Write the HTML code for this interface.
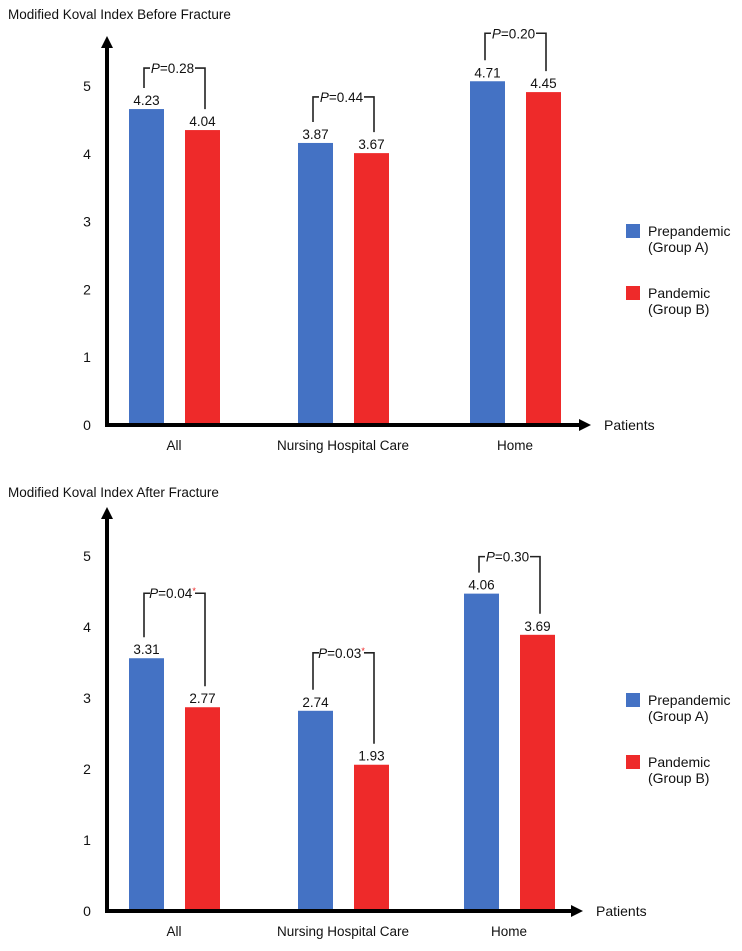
<!DOCTYPE html>
<html><head><meta charset="utf-8"><style>
html,body{margin:0;padding:0;background:#fff;}
svg{display:block;font-family:"Liberation Sans",Arial,sans-serif;}
</style></head><body>
<svg id="chart" width="742" height="951" viewBox="0 0 742 951" xmlns="http://www.w3.org/2000/svg"></svg>
<script>
const categories = ["All", "Nursing Hospital Care", "Home"];
const ticks = [0, 1, 2, 3, 4, 5];
const beforeA = [4.66, 4.16, 5.07];
const beforeB = [4.35, 4.01, 4.91];
const beforeLabelsA = ["4.23", "3.87", "4.71"];
const beforeLabelsB = ["4.04", "3.67", "4.45"];
const beforeP = ["=0.28", "=0.44", "=0.20"];
const beforeSig = [false, false, false];
// After fracture
const afterA = [3.56, 2.82, 4.47];
const afterB = [2.87, 2.06, 3.89];
const afterLabelsA = ["3.31", "2.74", "4.06"];
const afterLabelsB = ["2.77", "1.93", "3.69"];
const afterP = ["=0.04", "=0.03", "=0.30"];
const afterSig = [true, true, false];

const NS = "http://www.w3.org/2000/svg";
const svg = document.getElementById("chart");
function mk(tag, attrs, parent, text) {
  const e = document.createElementNS(NS, tag);
  for (const k in attrs) e.setAttribute(k, attrs[k]);
  if (text !== undefined) e.textContent = text;
  (parent || svg).appendChild(e);
  return e;
}

function panel(cfg) {
  const g = mk("g", {});
  
  
  const y = v => cfg.base - v * cfg.unit;
  const t = mk("text", {x: 8, y: cfg.titleY, "font-size": 13.5, fill: "#111"}, g, cfg.title);
  
  
  ticks.forEach(v => {
    const tl = mk("text", {x: 87, y: y(v) + 5, "font-size": 14, fill: "#111", "text-anchor": "middle"}, g, String(v));
    
    
  });
  const groupX = [129, 298, cfg.homeX];
  categories.forEach((c, i) => {
    const xa = groupX[i], xb = xa + 56;
    const va = cfg.A[i], vb = cfg.B[i];
    const ba = mk("rect", {x: xa, y: y(va), width: 35, height: va * cfg.unit, fill: "#4472c4"}, g);
    
    
    const bb = mk("rect", {x: xb, y: y(vb), width: 35, height: vb * cfg.unit, fill: "#ee2a2a"}, g);
    
    
    const la = mk("text", {x: xa + 17.5, y: y(va) - 4, "font-size": 13.5, fill: "#111", "text-anchor": "middle"}, g, cfg.LA[i]);
    
    
    const lb = mk("text", {x: xb + 17.5, y: y(vb) - 4, "font-size": 13.5, fill: "#111", "text-anchor": "middle"}, g, cfg.LB[i]);
    
    
    const top = Math.min(y(va), y(vb)) - cfg.bracketGap[i];
    const lx = xa + 15, rx = xb + 20;
    const path = mk("path", {d: `M${lx},${y(va) - 21} V${top} H${lx + 6} M${rx - 10},${top} H${rx} V${y(vb) - 21}`, stroke: "#222", "stroke-width": 1.6, fill: "none"}, g);
    
    
    const pt = mk("text", {x: (lx + rx) / 2 - 2, y: top + 5, "font-size": 13.5, fill: "#111", "text-anchor": "middle"}, g);
    
    
    mk("tspan", {"font-style": "italic"}, pt, "P");
    mk("tspan", {}, pt, cfg.P[i]);
    if (cfg.sig[i]) mk("tspan", {fill: "#e22", "font-size": 9, dy: -4}, pt, "*");
    const cl = mk("text", {x: xa + 45, y: cfg.base + 25, "font-size": 13.5, fill: "#111", "text-anchor": "middle"}, g, c);
    
    
  });
  const ya = mk("path", {d: `M107,${cfg.base + 2} V${cfg.axisTop + 8}`, stroke: "#000", "stroke-width": 4}, g);
  
  
  mk("polygon", {points: `101,${cfg.axisTop + 12} 107,${cfg.axisTop} 113,${cfg.axisTop + 12}`, fill: "#000"}, g);
  const xa = mk("path", {d: `M105,${cfg.base} H${cfg.arrowX - 10}`, stroke: "#000", "stroke-width": 4}, g);
  
  
  mk("polygon", {points: `${cfg.arrowX - 12},${cfg.base - 6} ${cfg.arrowX},${cfg.base} ${cfg.arrowX - 12},${cfg.base + 6}`, fill: "#000"}, g);
  const xt = mk("text", {x: cfg.arrowX + 13, y: cfg.base + 5, "font-size": 14, fill: "#111"}, g, "Patients");
  
  
  const lg = mk("g", {}, g);
  
  
  [["#4472c4", "Prepandemic", "(Group A)", cfg.legY], ["#ee2a2a", "Pandemic", "(Group B)", cfg.legY + 62]].forEach(([col, a, b, ly]) => {
    const e = mk("g", {}, lg);
    
    
    mk("rect", {x: 626, y: ly, width: 14, height: 14, fill: col}, e);
    mk("text", {x: 648, y: ly + 12, "font-size": 14, fill: "#111"}, e, a);
    mk("text", {x: 648, y: ly + 28, "font-size": 14, fill: "#111"}, e, b);
  });
}

panel({name: "before-fracture-panel", title: "Modified Koval Index Before Fracture", titleY: 19,
  base: 425, unit: 67.8, axisTop: 36, arrowX: 591, homeX: 470, legY: 224, bracketGap: [41, 46, 48],
  A: beforeA, B: beforeB, LA: beforeLabelsA, LB: beforeLabelsB, P: beforeP, sig: beforeSig});
panel({name: "after-fracture-panel", title: "Modified Koval Index After Fracture", titleY: 497,
  base: 911, unit: 71, axisTop: 507, arrowX: 583, homeX: 464, legY: 693, bracketGap: [65, 58, 37],
  A: afterA, B: afterB, LA: afterLabelsA, LB: afterLabelsB, P: afterP, sig: afterSig});
</script>
</body></html>
